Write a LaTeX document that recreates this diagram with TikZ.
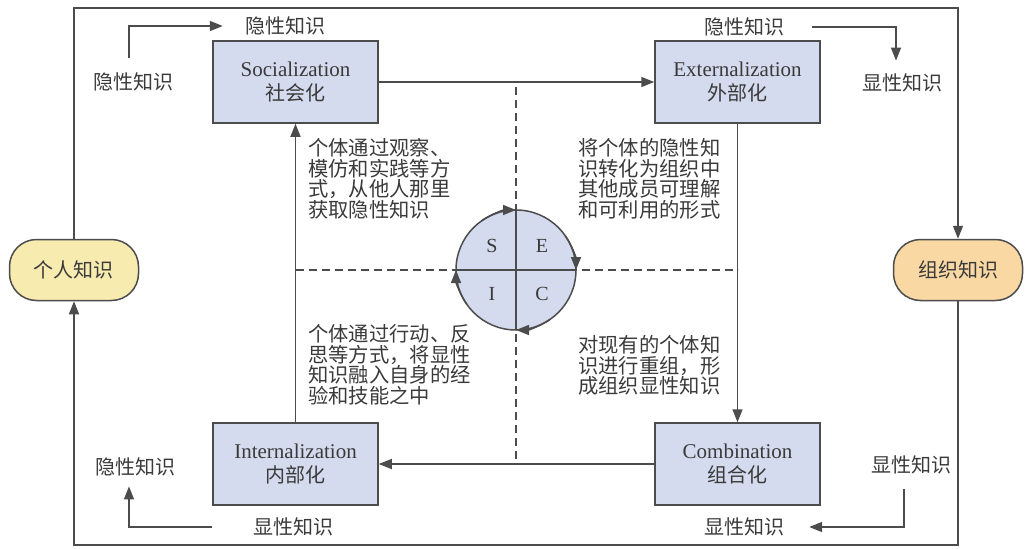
\documentclass[tikz,border=0pt]{standalone}
\usepackage{fontspec}
\setmainfont{Liberation Serif}
\newfontfamily\cjk{Noto Sans CJK SC}
\usepackage{tikz}
\usetikzlibrary{arrows.meta}

\definecolor{boxblue}{HTML}{D5DBEE}
\definecolor{pillyellow}{HTML}{F7EBB0}
\definecolor{pillorange}{HTML}{F9D8A4}
\definecolor{linegray}{HTML}{4C4C4C}
\definecolor{txtgray}{HTML}{3A3A3A}

\begin{document}
\begin{tikzpicture}[x=1pt, y=1pt,
	every node/.style={text=txtgray},
	modebox/.style={draw=linegray, line width=1.5pt, fill=boxblue, minimum width=165pt, minimum height=82pt, align=center, font=\fontsize{21}{23.5}\selectfont},
	pill/.style={draw=linegray, line width=1.5pt, rounded corners=27pt, minimum width=129pt, minimum height=61pt, font=\cjk\fontsize{20}{20}\selectfont},
	lbl/.style={font=\cjk\fontsize{20}{20}\selectfont, inner sep=0pt},
	desc/.style={font=\cjk\fontsize{20.3}{20.8}\selectfont, align=left, anchor=north west, inner sep=0pt},
	wire/.style={draw=linegray, line width=1.5pt},
	arr/.style={wire, -{Triangle[length=13pt,width=10pt]}},
	dashline/.style={draw=linegray, line width=1.2pt, dash pattern=on 8pt off 5pt}]
	\useasboundingbox (0,0) rectangle (1029,-549);
	
	% 四个模式
	\node[modebox] (soc) at (295.5,-82) {Socialization\\{\cjk\fontsize{20}{23.5}\selectfont 社会化}};
	\node[modebox] (ext) at (737.5,-82) {Externalization\\{\cjk\fontsize{20}{23.5}\selectfont 外部化}};
	\node[modebox] (int) at (295.5,-464) {Internalization\\{\cjk\fontsize{20}{23.5}\selectfont 内部化}};
	\node[modebox] (com) at (737.5,-464) {Combination\\{\cjk\fontsize{20}{23.5}\selectfont 组合化}};
	
	% 个人知识与组织知识
	\node[pill, fill=pillyellow] (indiv) at (74,-270) {个人知识};
	\node[pill, fill=pillorange] (org) at (958,-270) {组织知识};
	
	% 外框循环
	\coordinate (ftl) at (74,-8);
	\coordinate (ftr) at (958,-8);
	\coordinate (fbr) at (958,-545);
	\coordinate (fbl) at (74,-545);
	\draw[arr] (indiv.north) -- (ftl) -- (ftr) -- (org.north);
	\draw[arr] (org.south) -- (fbr) -- (fbl) -- (indiv.south);
	
	% 模式之间的转换
	\draw[arr] (soc) -- (ext);
	\draw[arr] (ext) -- (com);
	\draw[arr] (com) -- (int);
	\draw[arr] (int) -- (soc);
	
	% 中心虚线
	\coordinate (ctr) at (516,-270);
	\draw[dashline] (516,-87) -- (516,-459);
	\draw[dashline] (soc.south |- ctr) -- (ext.south |- ctr);
	
	% SECI 圆
	\node[circle, draw=linegray, line width=1.5pt, fill=boxblue, minimum size=120pt, outer sep=0pt] (seci) at (ctr) {};
	\draw[wire] (seci.north) -- (seci.south);
	\draw[wire] (seci.west) -- (seci.east);
	\draw[arr] (seci.125) arc[start angle=125, end angle=90, radius=60pt];
	\draw[arr] (seci.35) arc[start angle=35, end angle=0, radius=60pt];
	\draw[arr] (seci.-55) arc[start angle=-55, end angle=-90, radius=60pt];
	\draw[arr] (seci.-145) arc[start angle=-145, end angle=-180, radius=60pt];
	\node[font=\fontsize{20}{20}\selectfont] (ls) at (492,-246) {S};
	\node[font=\fontsize{20}{20}\selectfont] (le) at (542,-246) {E};
	\node[font=\fontsize{20}{20}\selectfont] (li) at (492,-294) {I};
	\node[font=\fontsize{20}{20}\selectfont] (lc) at (542,-294) {C};
	
	% 各象限说明
	\node[desc] (dsoc) at (308,-138) {个体通过观察、\\模仿和实践等方\\式，从他人那里\\获取隐性知识};
	\node[desc] (dext) at (578,-138) {将个体的隐性知\\识转化为组织中\\其他成员可理解\\和可利用的形式};
	\node[desc] (dint) at (308,-324) {个体通过行动、反\\思等方式，将显性\\知识融入自身的经\\验和技能之中};
	\node[desc] (dcom) at (578,-335) {对现有的个体知\\识进行重组，形\\成组织显性知识};
	
	% 四角的知识转换
	\node[lbl] (tl1) at (133,-82) {隐性知识};
	\node[lbl] (tl2) at (285,-26) {隐性知识};
	\node[lbl] (tr1) at (744,-27) {隐性知识};
	\node[lbl] (tr2) at (902,-83) {显性知识};
	\node[lbl] (br1) at (911,-465) {显性知识};
	\node[lbl] (br2) at (744,-527) {显性知识};
	\node[lbl] (bl1) at (293,-527) {显性知识};
	\node[lbl] (bl2) at (135,-467) {隐性知识};
	\draw[arr, shorten <=15pt, shorten >=22pt] ([xshift=-4pt]tl1.north) |- (tl2.west);
	\draw[arr, shorten <=28pt, shorten >=13pt] (tr1.east) -| ([xshift=-6pt]tr2.north);
	\draw[arr, shorten <=15pt, shorten >=25pt] ([xshift=-7pt]br1.south) |- (br2.east);
	\draw[arr, shorten <=41pt, shorten >=10pt] (bl1.west) -| ([xshift=-6pt]bl2.south);
	
\end{tikzpicture}
\end{document}
